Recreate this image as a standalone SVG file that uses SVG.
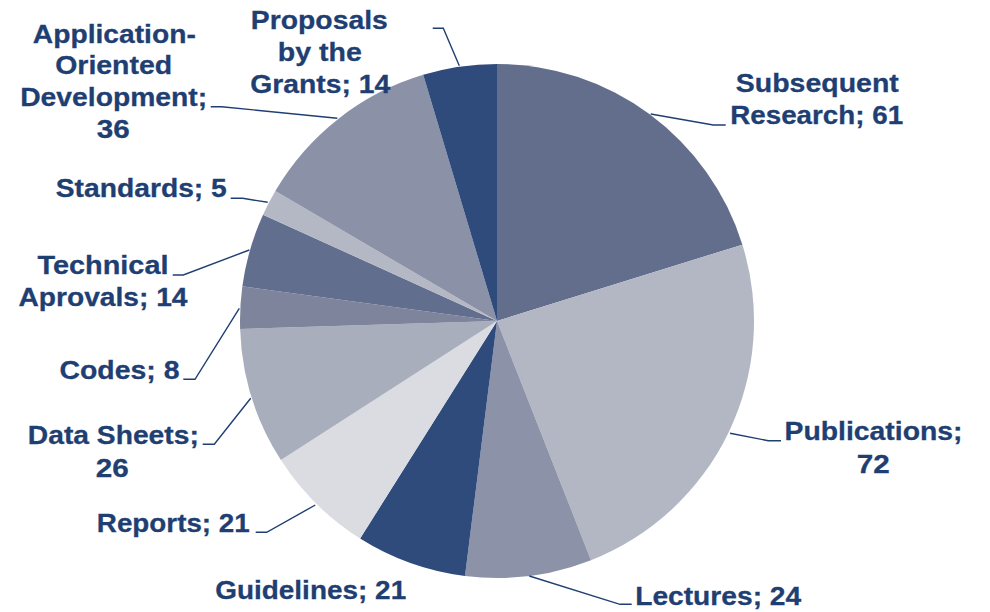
<svg xmlns="http://www.w3.org/2000/svg" width="990" height="612" viewBox="0 0 990 612">
<style>
text{font-family:"Liberation Sans",Arial,sans-serif;font-weight:bold;font-size:26px;fill:#1f3f73;stroke:#1f3f73;stroke-width:0.3}
.lead{fill:none;stroke:#1f3f73;stroke-width:1.4}
</style>
<rect width="990" height="612" fill="#ffffff"/>
<g id="pie">
<path id="s-subsequent" d="M497,321 L497,64 A257,257 0 0 1 742.40,244.64 Z" fill="#636e8d"/>
<path id="s-publications" d="M497,321 L742.40,244.64 A257,257 0 0 1 591.00,560.19 Z" fill="#b3b7c4"/>
<path id="s-lectures" d="M497,321 L591.00,560.19 A257,257 0 0 1 465.00,576.00 Z" fill="#8c92a7"/>
<path id="s-guidelines" d="M497,321 L465.00,576.00 A257,257 0 0 1 360.11,538.51 Z" fill="#2f4b7c"/>
<path id="s-reports" d="M497,321 L360.11,538.51 A257,257 0 0 1 280.91,460.12 Z" fill="#dadce2"/>
<path id="s-datasheets" d="M497,321 L280.91,460.12 A257,257 0 0 1 240.13,329.02 Z" fill="#a9aebc"/>
<path id="s-codes" d="M497,321 L240.13,329.02 A257,257 0 0 1 242.35,286.35 Z" fill="#7e849c"/>
<path id="s-technical" d="M497,321 L242.35,286.35 A257,257 0 0 1 263.02,214.67 Z" fill="#626e8e"/>
<path id="s-standards" d="M497,321 L263.02,214.67 A257,257 0 0 1 275.33,190.95 Z" fill="#b4b8c5"/>
<path id="s-application" d="M497,321 L275.33,190.95 A257,257 0 0 1 423.20,74.82 Z" fill="#8b91a6"/>
<path id="s-proposals" d="M497,321 L423.20,74.82 A257,257 0 0 1 497,64 Z" fill="#2f4b7c"/>
</g>
<g id="connectors">
<polyline class="lead" points="432.7,28.3 443.3,28.3 459.3,65.7"/>
<polyline class="lead" points="210.7,106.7 221.7,106.7 337.3,118.3"/>
<polyline class="lead" points="230.7,198.3 242.7,198.3 267.7,202.3"/>
<polyline class="lead" points="172.7,275 183.3,275 249.3,250"/>
<polyline class="lead" points="183.3,379.3 195,379.3 239.3,308.3"/>
<polyline class="lead" points="202.7,444.3 214.3,444.3 250.7,398.3"/>
<polyline class="lead" points="255.7,532.3 266.7,532.3 315.3,505"/>
<polyline class="lead" points="631.7,604.3 620,604.3 529.3,576"/>
<polyline class="lead" points="781,440.7 768.3,440.7 730,433.3"/>
<polyline class="lead" points="725.7,125 713.3,125 650.7,114"/>
</g>
<g id="label-subsequent">
<text x="735.8" y="92.3" textLength="163" lengthAdjust="spacingAndGlyphs">Subsequent</text>
<text x="730.2" y="124.3" textLength="173" lengthAdjust="spacingAndGlyphs">Research; 61</text>
</g>
<g id="label-publications">
<text x="784.5" y="440" textLength="178" lengthAdjust="spacingAndGlyphs">Publications;</text>
<text x="856.8" y="473.3" textLength="33" lengthAdjust="spacingAndGlyphs">72</text>
</g>
<g id="label-lectures">
<text x="635.2" y="605" textLength="166" lengthAdjust="spacingAndGlyphs">Lectures; 24</text>
</g>
<g id="label-guidelines">
<text x="215.2" y="599.3" textLength="191" lengthAdjust="spacingAndGlyphs">Guidelines; 21</text>
</g>
<g id="label-reports">
<text x="96.8" y="532.3" textLength="153" lengthAdjust="spacingAndGlyphs">Reports; 21</text>
</g>
<g id="label-datasheets">
<text x="27.8" y="444.3" textLength="171" lengthAdjust="spacingAndGlyphs">Data Sheets;</text>
<text x="95.8" y="476.7" textLength="33" lengthAdjust="spacingAndGlyphs">26</text>
</g>
<g id="label-codes">
<text x="59.5" y="379.3" textLength="120" lengthAdjust="spacingAndGlyphs">Codes; 8</text>
</g>
<g id="label-technical">
<text x="37.5" y="274" textLength="131" lengthAdjust="spacingAndGlyphs">Technical</text>
<text x="18.5" y="306" textLength="169" lengthAdjust="spacingAndGlyphs">Aprovals; 14</text>
</g>
<g id="label-standards">
<text x="55.8" y="196.7" textLength="171" lengthAdjust="spacingAndGlyphs">Standards; 5</text>
</g>
<g id="label-application">
<text x="32.8" y="42.7" textLength="163" lengthAdjust="spacingAndGlyphs">Application-</text>
<text x="55.2" y="74" textLength="117" lengthAdjust="spacingAndGlyphs">Oriented</text>
<text x="20.2" y="106.3" textLength="187" lengthAdjust="spacingAndGlyphs">Development;</text>
<text x="96.8" y="137.7" textLength="33" lengthAdjust="spacingAndGlyphs">36</text>
</g>
<g id="label-proposals">
<text x="250.8" y="29.3" textLength="137" lengthAdjust="spacingAndGlyphs">Proposals</text>
<text x="277.8" y="61" textLength="84" lengthAdjust="spacingAndGlyphs">by the</text>
<text x="250.2" y="93.3" textLength="140" lengthAdjust="spacingAndGlyphs">Grants; 14</text>
</g>
</svg>
